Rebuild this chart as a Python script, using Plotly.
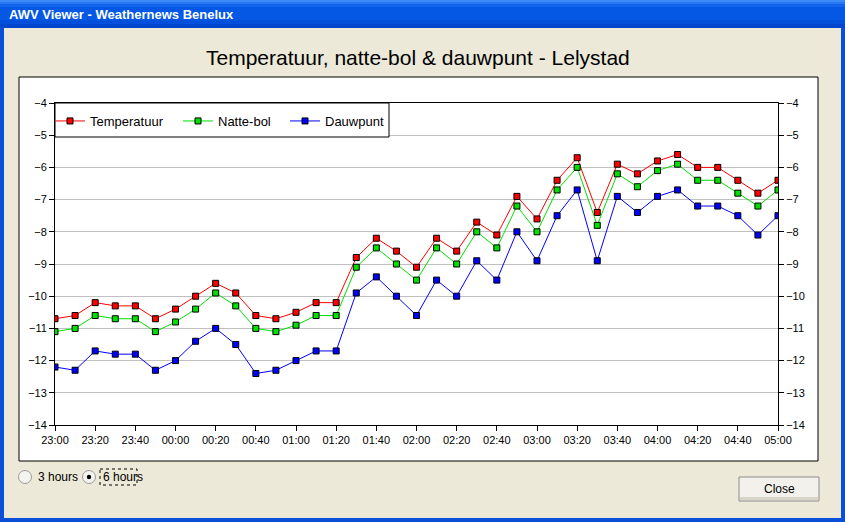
import plotly.graph_objects as go

# tijdstippen (10 minuten interval)
times = ["23:00", "23:10", "23:20", "23:30", "23:40", "23:50",
         "00:00", "00:10", "00:20", "00:30", "00:40", "00:50",
         "01:00", "01:10", "01:20", "01:30", "01:40", "01:50",
         "02:00", "02:10", "02:20", "02:30", "02:40", "02:50",
         "03:00", "03:10", "03:20", "03:30", "03:40", "03:50",
         "04:00", "04:10", "04:20", "04:30", "04:40", "04:50", "05:00"]

temperatuur = [-10.7, -10.6, -10.2, -10.3, -10.3, -10.7, -10.4, -10.0, -9.6, -9.9,
               -10.6, -10.7, -10.5, -10.2, -10.2, -8.8, -8.2, -8.6, -9.1, -8.2,
               -8.6, -7.7, -8.1, -6.9, -7.6, -6.4, -5.7, -7.4, -5.9, -6.2,
               -5.8, -5.6, -6.0, -6.0, -6.4, -6.8, -6.4]

natte_bol = [-11.1, -11.0, -10.6, -10.7, -10.7, -11.1, -10.8, -10.4, -9.9, -10.3,
             -11.0, -11.1, -10.9, -10.6, -10.6, -9.1, -8.5, -9.0, -9.5, -8.5,
             -9.0, -8.0, -8.5, -7.2, -8.0, -6.7, -6.0, -7.8, -6.2, -6.6,
             -6.1, -5.9, -6.4, -6.4, -6.8, -7.2, -6.7]

dauwpunt = [-12.2, -12.3, -11.7, -11.8, -11.8, -12.3, -12.0, -11.4, -11.0, -11.5,
            -12.4, -12.3, -12.0, -11.7, -11.7, -9.9, -9.4, -10.0, -10.6, -9.5,
            -10.0, -8.9, -9.5, -8.0, -8.9, -7.5, -6.7, -8.9, -6.9, -7.4,
            -6.9, -6.7, -7.2, -7.2, -7.5, -8.1, -7.5]

tick_labels = times[::2]

W, H = 845, 522
PL, PR, PT, PB = 55, 778, 103, 425
FONT = "Liberation Sans, Arial, sans-serif"


def fx(px):
    return (px - PL) / (PR - PL)


def fy(py):
    return (PB - py) / (PB - PT)


def rect(x0, y0, x1, y1, fill, line=None, width=1, layer="below", dash=None):
    ln = dict(width=0) if line is None else dict(color=line, width=width, dash=dash)
    return dict(type="rect", xref="paper", yref="paper",
                x0=fx(x0), x1=fx(x1), y0=fy(y0), y1=fy(y1),
                fillcolor=fill, line=ln, layer=layer)


def circle(cx, cy, r, fill, line=None):
    ln = dict(width=0) if line is None else dict(color=line, width=1)
    return dict(type="circle", xref="paper", yref="paper",
                x0=fx(cx - r), x1=fx(cx + r), y0=fy(cy + r), y1=fy(cy - r),
                fillcolor=fill, line=ln, layer="above")


def text(px, py, s, size=12, color="black", anchor="left"):
    return dict(x=fx(px), y=fy(py), xref="paper", yref="paper", text=s,
                showarrow=False, xanchor=anchor, yanchor="middle",
                font=dict(family=FONT, size=size, color=color))


def legend_at(px):
    return dict(orientation="h", x=fx(px), y=1 - 3 / (PB - PT),
                xanchor="left", yanchor="top",
                bgcolor="rgba(0,0,0,0)", borderwidth=0,
                font=dict(family=FONT, size=13, color="black"),
                itemclick=False, itemdoubleclick=False)


fig = go.Figure()

series = [("Temperatuur", temperatuur, "#FF0000", "y", "legend"),
          ("Natte-bol", natte_bol, "#00E000", "y", "legend2"),
          ("Dauwpunt", dauwpunt, "#0000FF", "y2", "legend3")]

for name, vals, col, ax, leg in series:
    fig.add_trace(go.Scatter(
        x=times, y=vals, name=name, mode="lines+markers", yaxis=ax, legend=leg,
        line=dict(color=col, width=1),
        marker=dict(symbol="square", size=6, color=col,
                    line=dict(color="black", width=1))
    ))

# vensterrand en titelbalk (XP stijl)
shapes = []
shapes.append(rect(19, 77, 818, 461, "white", "black", 1))
bar = [(0, 2, "#3D8BF7"), (2, 4, "#2A78F2"), (4, 7, "#1465EC"),
       (7, 20, "#0458E4"), (20, 24, "#0050DC"), (24, 28, "#0047D0")]
for y0, y1, c in bar:
    shapes.append(rect(0, y0, W, y1, c))
shapes.append(rect(0, 28, 4, H, "#0B4ED8"))
shapes.append(rect(W - 4, 28, W, H, "#0B4ED8"))
shapes.append(rect(0, H - 4, W, H, "#0B4ED8"))

# legenda kader
shapes.append(rect(PL, PT, 389, 137, "white", "black", 1, layer="above"))

# radio knoppen
shapes.append(circle(25, 477, 6.5, "#F4F4F0", "#9A9A9A"))
shapes.append(circle(89, 477, 6.5, "#F4F4F0", "#9A9A9A"))
shapes.append(circle(89, 477, 2.2, "black"))
shapes.append(rect(100, 469, 137, 485, "rgba(0,0,0,0)", "black", 1, layer="above", dash="dot"))

# sluit knop
shapes.append(rect(739, 477, 819, 501, "#F2F1EB", "#8A8A8A", 1, layer="above"))
shapes.append(rect(740, 497, 818, 500, "#D8D4C8", layer="above"))

annotations = [
    text(7, 14, "<b>AWV Viewer - Weathernews Benelux</b>", size=13, color="white"),
    text(418, 57, "Temperatuur, natte-bol & dauwpunt - Lelystad", size=21, anchor="center"),
    text(36, 477, "3 hours", size=12),
    text(101, 477, "6 hours", size=12),
    text(779, 489, "Close", size=12, anchor="center"),
]

axis_font = dict(family=FONT, size=11, color="black")

fig.update_layout(
    width=W, height=H,
    margin=dict(l=PL, r=W - PR, t=PT, b=H - PB, pad=0),
    paper_bgcolor="#ECE9D8",
    plot_bgcolor="white",
    shapes=shapes,
    annotations=annotations,
    showlegend=True,
    legend=legend_at(50),
    legend2=legend_at(178),
    legend3=legend_at(285),
    xaxis=dict(
        type="category", range=[0, len(times) - 1],
        tickmode="array", tickvals=tick_labels, ticktext=tick_labels,
        ticks="outside", ticklen=5, tickcolor="black",
        showline=True, linecolor="black", linewidth=1, mirror=True,
        showgrid=False, zeroline=False, tickfont=axis_font,
    ),
    yaxis=dict(
        range=[-14, -4], dtick=1, tick0=-14,
        ticks="outside", ticklen=5, tickcolor="black",
        showline=True, linecolor="black", linewidth=1, mirror=True,
        showgrid=True, gridcolor="#C0C0C0", gridwidth=1, zeroline=False,
        tickfont=axis_font,
    ),
    yaxis2=dict(
        overlaying="y", side="right", range=[-14, -4], dtick=1, tick0=-14,
        ticks="outside", ticklen=5, tickcolor="black",
        showline=False, showgrid=False, zeroline=False, tickfont=axis_font,
    ),
)

# pagina zonder standaard body-marge, zodat het venster precies past
fig.write_html("out.html", config={"displayModeBar": False},
               post_script="document.body.style.margin='0';")
